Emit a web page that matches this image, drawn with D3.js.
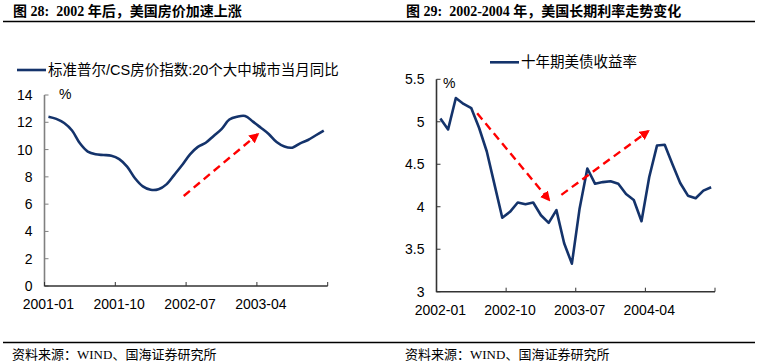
<!DOCTYPE html>
<html><head><meta charset="utf-8">
<script src="https://cdn.jsdelivr.net/npm/d3@7/dist/d3.min.js"></script>
<style>
html,body{margin:0;padding:0;background:#fff;}
svg{display:block;}
</style></head>
<body>
<script>
// ---------- DATA ----------
const monthsL = ["2001-01","2001-02","2001-03","2001-04","2001-05","2001-06","2001-07","2001-08","2001-09","2001-10","2001-11","2001-12",
"2002-01","2002-02","2002-03","2002-04","2002-05","2002-06","2002-07","2002-08","2002-09","2002-10","2002-11","2002-12",
"2003-01","2003-02","2003-03","2003-04","2003-05","2003-06","2003-07","2003-08","2003-09","2003-10","2003-11","2003-12"];
const csIndexYoY = [12.41,12.25,11.95,11.4,10.46,9.85,9.65,9.6,9.55,9.3,8.75,7.9,
7.3,7.05,7.09,7.45,8.15,8.87,9.65,10.2,10.5,11.0,11.5,12.2,
12.41,12.46,12.05,11.6,11.14,10.55,10.22,10.14,10.46,10.7,11.05,11.39];
const monthsR = ["2002-01","2002-02","2002-03","2002-04","2002-05","2002-06","2002-07","2002-08","2002-09","2002-10","2002-11","2002-12",
"2003-01","2003-02","2003-03","2003-04","2003-05","2003-06","2003-07","2003-08","2003-09","2003-10","2003-11","2003-12",
"2004-01","2004-02","2004-03","2004-04","2004-05","2004-06","2004-07","2004-08","2004-09","2004-10","2004-11","2004-12"];
const ust10y = [5.04,4.91,5.28,5.21,5.16,4.93,4.65,4.26,3.87,3.94,4.05,4.03,
4.05,3.90,3.81,3.96,3.57,3.33,3.98,4.45,4.27,4.29,4.30,4.27,
4.15,4.08,3.83,4.35,4.72,4.73,4.50,4.28,4.13,4.10,4.19,4.23];
const tickLabelsL = ["2001-01","2001-10","2002-07","2003-04"];
const tickLabelsR = ["2002-01","2002-10","2003-07","2004-04"];
const yTicksL = [0,2,4,6,8,10,12,14];
const yTicksR = [3,3.5,4,4.5,5,5.5];
// annotation arrows in data space: [fromIndex, fromValue, toIndex, toValue]
const arrowsL = [[17.2,6.6,26.6,11.12]];
const arrowsR = [[4.76,5.10,14.05,4.08],[15.64,4.14,26.86,4.89]];
const legendL = "标准普尔/CS房价指数:20个大中城市当月同比";
const legendR = "十年期美债收益率";
const titleL = "图 28:  2002 年后，美国房价加速上涨";
const titleR = "图 29:  2002-2004 年，美国长期利率走势变化";
const sourceText = "资料来源：WIND、国海证券研究所";

// ---------- DRAW ----------
const W=758,H=364;
const svg=d3.select("body").append("svg").attr("width",W).attr("height",H);
const sans="'Liberation Sans', Arial, 'Noto Sans CJK SC', sans-serif";
const serif="'Liberation Serif','Times New Roman','Noto Sans CJK SC',serif";
const lineColor="#14336b";

// header / footer rules
svg.append("line").attr("x1",3).attr("x2",755).attr("y1",21.5).attr("y2",21.5).attr("stroke","#000").attr("stroke-width",1.5);
svg.append("line").attr("x1",3).attr("x2",755).attr("y1",342.5).attr("y2",342.5).attr("stroke","#000").attr("stroke-width",1.3);
svg.append("text").attr("x",13).attr("y",16).attr("font-family",serif).attr("font-weight","bold").attr("font-size",14).attr("xml:space","preserve").style("white-space","pre").text(titleL);
svg.append("text").attr("x",406).attr("y",16).attr("font-family",serif).attr("font-weight","bold").attr("font-size",14).style("white-space","pre").text(titleR);
svg.append("text").attr("x",12).attr("y",359).attr("font-family",serif).attr("font-size",13).text(sourceText);
svg.append("text").attr("x",405).attr("y",359).attr("font-family",serif).attr("font-size",13).text(sourceText);

const defs=svg.append("defs");
defs.append("marker").attr("id","ah").attr("viewBox","0 0 10 10").attr("refX",8).attr("refY",5)
  .attr("markerWidth",4.2).attr("markerHeight",4.2).attr("orient","auto").attr("markerUnits","strokeWidth")
  .append("path").attr("d","M0,0 L10,5 L0,10 Z").attr("fill","#ff0000");

function drawChart(cfg){
  const g=svg.append("g");
  const x=d3.scaleBand().domain(cfg.months).range([cfg.x0,cfg.x1]).padding(0);
  const bw=x.bandwidth();
  const xi=d3.scaleLinear().domain([-0.5,cfg.months.length-0.5]).range([cfg.x0,cfg.x1]);
  const y=d3.scaleLinear().domain(cfg.yDomain).range([cfg.yB,cfg.yT]);

  // y axis
  const ya=d3.axisLeft(y).tickValues(cfg.yTicks).tickSize(0).tickPadding(12).tickFormat(d=>String(d));
  const yg=g.append("g").attr("transform",`translate(${cfg.x0},0)`).call(ya);
  yg.select(".domain").remove();
  yg.selectAll("text").attr("font-family",sans).attr("font-size",14).attr("fill","#000");
  g.selectAll(".ytk").data(cfg.yTicks).join("line").attr("x1",cfg.x0).attr("x2",cfg.x0+4)
    .attr("y1",d=>y(d)).attr("y2",d=>y(d)).attr("stroke",cfg.yAxisColor).attr("stroke-width",1);
  g.append("line").attr("x1",cfg.x0).attr("x2",cfg.x0).attr("y1",y(cfg.yDomain[1])).attr("y2",y(cfg.yDomain[0])+0.5)
    .attr("stroke",cfg.yAxisColor).attr("stroke-width",1.6);

  // x axis
  const tickPos=cfg.tickLabels.map(d=>x(d)).concat([cfg.x1]);
  g.selectAll(".xtk").data(tickPos).join("line").attr("x1",d=>d).attr("x2",d=>d)
    .attr("y1",y(cfg.yDomain[0])-4).attr("y2",y(cfg.yDomain[0])).attr("stroke","#333").attr("stroke-width",1);
  g.append("line").attr("x1",cfg.x0).attr("x2",cfg.x1).attr("y1",y(cfg.yDomain[0])).attr("y2",y(cfg.yDomain[0]))
    .attr("stroke","#333").attr("stroke-width",1.5);
  g.selectAll(".xl").data(cfg.tickLabels).join("text").attr("x",d=>x(d)+bw/2).attr("y",y(cfg.yDomain[0])+23)
    .attr("text-anchor","middle").attr("font-family",sans).attr("font-size",14).text(d=>d);

  // % unit
  g.append("text").attr("x",cfg.pctX).attr("y",cfg.pctY).attr("font-family",sans).attr("font-size",14).text("%");

  // line
  const line=d3.line().x((d,i)=>x(cfg.months[i])+bw/2).y(d=>y(d)).curve(cfg.curve);
  g.append("path").datum(cfg.values).attr("d",line).attr("fill","none").attr("stroke",lineColor)
    .attr("stroke-width",2.6).attr("stroke-linejoin","round");

  // arrows
  cfg.arrows.forEach(a=>{
    g.append("line").attr("x1",xi(a[0])).attr("y1",y(a[1])).attr("x2",xi(a[2])).attr("y2",y(a[3]))
      .attr("stroke","#ff0000").attr("stroke-width",2.4).attr("stroke-dasharray","8,5").attr("marker-end","url(#ah)");
  });

  // legend
  g.append("line").attr("x1",cfg.legX).attr("x2",cfg.legX+29).attr("y1",cfg.legY).attr("y2",cfg.legY)
    .attr("stroke",lineColor).attr("stroke-width",2.6);
  g.append("text").attr("x",cfg.legX+31).attr("y",cfg.legY+5).attr("font-family",sans).attr("font-size",14.5).text(cfg.legend);
}

drawChart({months:monthsL,values:csIndexYoY,tickLabels:tickLabelsL,yTicks:yTicksL,yDomain:[0,14],
  x0:44.5,x1:327.7,yT:95,yB:286,yAxisColor:"#808080",curve:d3.curveCatmullRom.alpha(0.5),
  arrows:arrowsL,legend:legendL,legX:17,legY:70,pctX:59,pctY:99});
drawChart({months:monthsR,values:ust10y,tickLabels:tickLabelsR,yTicks:yTicksR,yDomain:[3,5.5],
  x0:436.5,x1:715,yT:79.3,yB:291.7,yAxisColor:"#333",curve:d3.curveLinear,
  arrows:arrowsR,legend:legendR,legX:490,legY:62.3,pctX:443,pctY:88});
</script>
</body></html>
